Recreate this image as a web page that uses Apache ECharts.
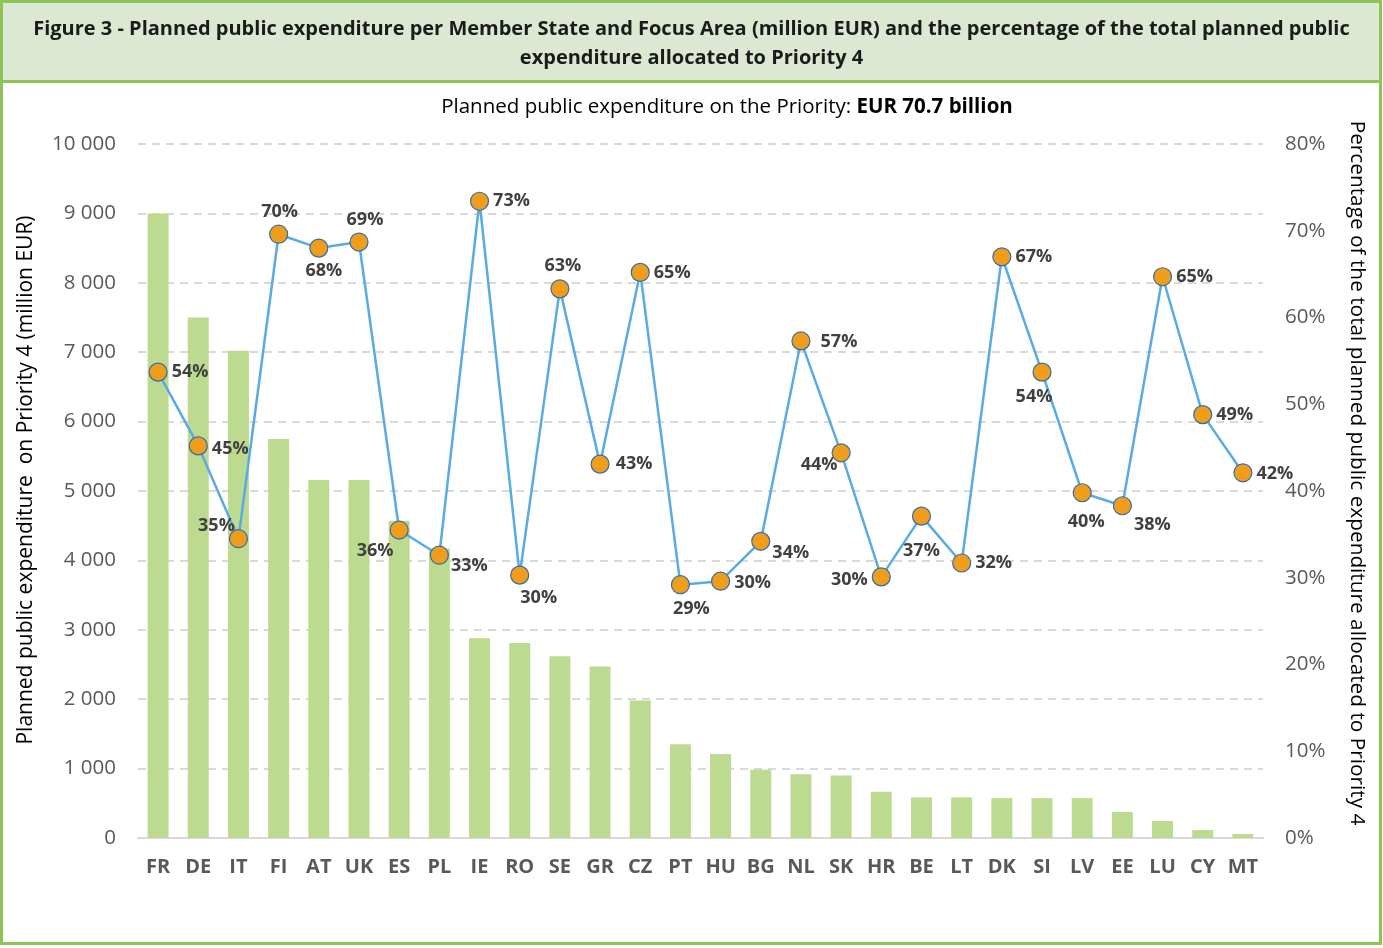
<!DOCTYPE html>
<html>
<head>
<meta charset="utf-8">
<script src="https://cdn.jsdelivr.net/npm/echarts@6/dist/echarts.min.js"></script>
<style>
  html, body { margin: 0; padding: 0; background: #fff; }
  #chart { width: 1383px; height: 948px; }
</style>
</head>
<body>
<div id="chart"></div>
<script>
// member states, sorted by planned expenditure
var countries = ['FR','DE','IT','FI','AT','UK','ES','PL','IE','RO','SE','GR','CZ','PT','HU','BG','NL','SK','HR','BE','LT','DK','SI','LV','EE','LU','CY','MT'];
// planned public expenditure on Priority 4 (million EUR)
var expenditure = [9000,7500,7020,5750,5160,5160,4570,4170,2880,2810,2620,2470,1980,1350,1210,985,920,900,665,585,585,575,575,575,375,245,115,58];
// share of total planned public expenditure allocated to Priority 4 (%)
var sharePct = [53.7,45.2,34.5,69.6,68.0,68.7,35.5,32.6,73.4,30.3,63.3,43.1,65.2,29.2,29.6,34.2,57.3,44.4,30.1,37.1,31.7,67.0,53.7,39.8,38.3,64.7,48.8,42.1];
var leftTicks = [0,1000,2000,3000,4000,5000,6000,7000,8000,9000,10000];

var FONT = '"Open Sans", "Noto Sans", sans-serif';

// where each percentage label sits around its marker
var labelPlacement = {
  FR: ['right', [0, 0]], DE: ['right', [0, 3]], IT: ['left', [10, -13]], FI: ['top', [1, 0]],
  AT: ['bottom', [5, 0]], UK: ['top', [6, 0]], ES: ['left', [8, 21]], PL: ['right', [-2, 11]],
  IE: ['right', [0, 0]], RO: ['bottom', [19, 0]], SE: ['top', [3, 0]], GR: ['right', [2, 0]],
  CZ: ['right', [0, 0]], PT: ['bottom', [11, 2]], HU: ['right', [0, 2]], BG: ['right', [-2, 12]],
  NL: ['right', [6, 1]], SK: ['left', [10, 12]], HR: ['left', [0, 3]], BE: ['bottom', [0, 12]],
  LT: ['right', [0, 0]], DK: ['right', [0, 0]], SI: ['bottom', [-8, 2]], LV: ['bottom', [4, 7]],
  EE: ['right', [-2, 19]], LU: ['right', [0, 0]], CY: ['right', [0, 0]], MT: ['right', [0, 1]]
};

var lineData = sharePct.map(function (v, i) {
  var p = labelPlacement[countries[i]];
  return { value: v, label: { position: p[0], offset: p[1] } };
});

var headStyle = { fontFamily: FONT, fontSize: 20, fontWeight: 'bold', color: '#1b1b1b' };

var chart = echarts.init(document.getElementById('chart'));
chart.setOption({
  backgroundColor: '#fff',
  textStyle: { fontFamily: FONT },
  graphic: [
    { type: 'rect', z: -10, shape: { x: 1.5, y: 1.5, width: 1379, height: 80 },
      style: { fill: '#dce8d2', stroke: '#8dc457', lineWidth: 3 } },
    { type: 'rect', z: -11, shape: { x: 1.5, y: 1.5, width: 1379, height: 942 },
      style: { fill: '#fff', stroke: '#8dc457', lineWidth: 3 } }
  ],
  title: [
    {
      text: 'Figure 3 - Planned public expenditure per Member State and Focus Area (million EUR) and the percentage of the total planned public',
      left: 'center', top: 14, textStyle: headStyle
    },
    {
      text: 'expenditure allocated to Priority 4',
      left: 'center', top: 43, textStyle: headStyle
    },
    {
      text: '{n|Planned public expenditure on the Priority: }{b|EUR 70.7 billion}',
      left: 722, top: 92, textAlign: 'center',
      textStyle: {
        rich: {
          n: { fontFamily: FONT, fontSize: 20.5, color: '#000', fontWeight: 'normal' },
          b: { fontFamily: FONT, fontSize: 20.5, color: '#000', fontWeight: 'bold' }
        }
      }
    }
  ],
  grid: { left: 138, right: 120, top: 144, bottom: 110 },
  xAxis: {
    type: 'category',
    data: countries,
    axisTick: { show: false },
    axisLine: { lineStyle: { color: '#d9d9d9', width: 2 } },
    axisLabel: { color: '#595959', fontSize: 20, fontWeight: 'bold', margin: 19, interval: 0, fontFamily: FONT }
  },
  yAxis: [
    {
      type: 'value', min: leftTicks[0], max: leftTicks[leftTicks.length - 1], interval: 1000,
      name: 'Planned public expenditure  on Priority 4 (million EUR)',
      nameLocation: 'middle', nameGap: 101, nameRotate: 90,
      nameTextStyle: { fontFamily: FONT, fontSize: 21, color: '#000', padding: [0, 0, 0, 22] },
      axisLabel: {
        color: '#595959', fontSize: 20.5, margin: 22, fontFamily: FONT,
        formatter: function (v) { return String(v).replace(/\B(?=(\d{3})+(?!\d))/g, ' '); }
      },
      splitLine: { lineStyle: { color: '#d9d9d9', type: [8, 6], width: 2 } },
      axisLine: { show: false }, axisTick: { show: false }
    },
    {
      type: 'value', min: 0, max: 80, interval: 10,
      name: 'Percentage of the total planned public expenditure allocated to Priority 4',
      nameLocation: 'middle', nameGap: 83, nameRotate: -90,
      nameTextStyle: { fontFamily: FONT, fontSize: 20.8, color: '#000', padding: [0, 36, 0, 0] },
      axisLabel: { color: '#595959', fontSize: 20.5, margin: 22, fontFamily: FONT, formatter: '{value}%' },
      splitLine: { show: false }, axisLine: { show: false }, axisTick: { show: false }
    }
  ],
  series: [
    {
      name: 'Planned public expenditure',
      type: 'bar',
      data: expenditure,
      barWidth: 21,
      itemStyle: { color: '#bddb90' },
      z: 2
    },
    {
      name: 'Share of total',
      type: 'line',
      yAxisIndex: 1,
      data: lineData,
      symbol: 'circle',
      symbolSize: 18,
      lineStyle: { color: '#5aaae4', width: 2.5 },
      itemStyle: { color: '#f19d1c', borderColor: '#2f6fae', borderWidth: 1.2 },
      label: {
        show: true, distance: 4,
        color: '#404040', fontSize: 18, fontWeight: 'bold', fontFamily: FONT,
        formatter: function (p) { return Math.round(p.value) + '%'; }
      },
      z: 5
    }
  ],
  animation: false
});
</script>
</body>
</html>
